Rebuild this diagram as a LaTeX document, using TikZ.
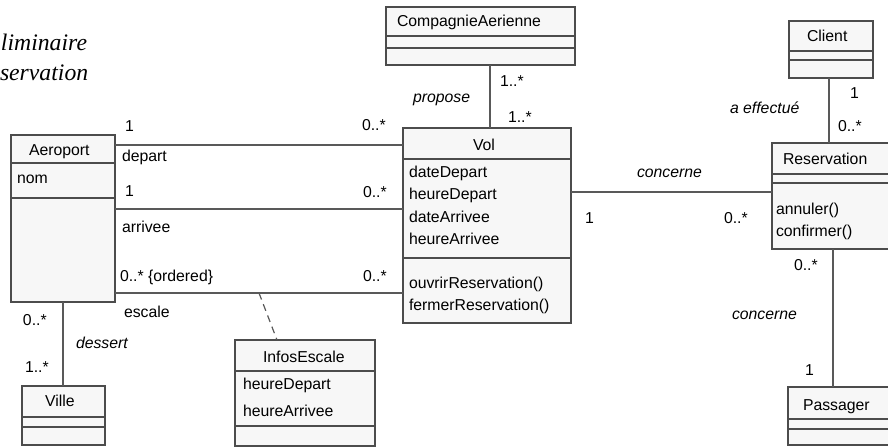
\documentclass[tikz,border=0pt]{standalone}
\usepackage{fontspec}
\setmainfont{Liberation Sans}
\newfontfamily\capfont{Liberation Serif}
\usetikzlibrary{positioning}

\begin{document}
\begin{tikzpicture}[
  x=1pt, y=-1pt,
  every node/.style={font=\fontsize{15.8}{18}\selectfont, inner sep=0pt, outer sep=0pt},
  cls/.style={draw=black!70, fill=black!3, line width=1.3pt, anchor=north west},
  sep/.style={draw=black!70, line width=1.1pt},
  assoc/.style={draw=black!65, line width=1.2pt},
  txt/.style={anchor=base west},
  role/.style={anchor=base west, font=\fontsize{15.8}{18}\selectfont\itshape},
  captxt/.style={anchor=base west, font=\capfont\fontsize{23.7}{28}\selectfont\itshape}
]
\useasboundingbox (0,0) rectangle (888,447);
\clip (0,0) rectangle (888,447);

%% ---- CAPTION ---------------------------------------------------
\node[captxt] (cap1) at (1,50) {liminaire};
\node[captxt] (cap2) at (0,80) {servation};

%% ---- CLASSES ---------------------------------------------------
\node[cls, minimum width=104pt, minimum height=167pt] (aeroport) at (11,135)  {};
\node[cls, minimum width=168pt, minimum height=195pt] (vol)      at (403,128) {};
\node[cls, minimum width=189pt, minimum height=58pt]  (comp)     at (386,7)   {};
\node[cls, minimum width=84pt,  minimum height=57pt]  (client)   at (789,21)  {};
\node[cls, minimum width=130pt, minimum height=106pt] (resa)     at (772,143) {};
\node[cls, minimum width=114pt, minimum height=58pt]  (passager) at (788,387) {};
\node[cls, minimum width=83pt,  minimum height=59pt]  (ville)    at (22,386)  {};
\node[cls, minimum width=140pt, minimum height=106pt] (infos)    at (235,340) {};

%% compartments
\draw[sep] ([yshift=-28pt]aeroport.north west) -- ([yshift=-28pt]aeroport.north east);
\draw[sep] ([yshift=-63pt]aeroport.north west) -- ([yshift=-63pt]aeroport.north east);
\draw[sep] ([yshift=-31pt]vol.north west)      -- ([yshift=-31pt]vol.north east);
\draw[sep] ([yshift=-130pt]vol.north west)     -- ([yshift=-130pt]vol.north east);
\draw[sep] ([yshift=-29pt]comp.north west)     -- ([yshift=-29pt]comp.north east);
\draw[sep] ([yshift=-41pt]comp.north west)     -- ([yshift=-41pt]comp.north east);
\draw[sep] ([yshift=-30pt]client.north west)   -- ([yshift=-30pt]client.north east);
\draw[sep] ([yshift=-39pt]client.north west)   -- ([yshift=-39pt]client.north east);
\draw[sep] ([yshift=-31pt]resa.north west)     -- ([yshift=-31pt]resa.north east);
\draw[sep] ([yshift=-40pt]resa.north west)     -- ([yshift=-40pt]resa.north east);
\draw[sep] ([yshift=-32pt]passager.north west) -- ([yshift=-32pt]passager.north east);
\draw[sep] ([yshift=-42pt]passager.north west) -- ([yshift=-42pt]passager.north east);
\draw[sep] ([yshift=-31pt]ville.north west)    -- ([yshift=-31pt]ville.north east);
\draw[sep] ([yshift=-41pt]ville.north west)    -- ([yshift=-41pt]ville.north east);
\draw[sep] ([yshift=-31pt]infos.north west)    -- ([yshift=-31pt]infos.north east);
\draw[sep] ([yshift=-86pt]infos.north west)    -- ([yshift=-86pt]infos.north east);

%% class texts
\node[txt] (aeroportN) at (29,155)  {Aeroport};
\node[txt] (nom)       at (17,183)  {nom};

\node[txt] (volN)      at (473,150) {Vol};
\node[txt] (dd)        at (409,177) {dateDepart};
\node[txt] (hd)        at (409,199) {heureDepart};
\node[txt] (da)        at (409,222) {dateArrivee};
\node[txt] (ha)        at (409,244) {heureArrivee};
\node[txt] (ouvrir)    at (409,288) {ouvrirReservation()};
\node[txt] (fermer)    at (409,310) {fermerReservation()};

\node[txt] (compN)     at (397,27)  {CompagnieAerienne};
\node[txt] (clientN)   at (807,41)  {Client};

\node[txt] (resaN)     at (783,164) {Reservation};
\node[txt] (annuler)   at (776,214) {annuler()};
\node[txt] (confirmer) at (776,236) {confirmer()};

\node[txt] (passagerN) at (803,410) {Passager};
\node[txt] (villeN)    at (45,406)  {Ville};

\node[txt] (infosN)    at (263,362) {InfosEscale};
\node[txt] (ihd)       at (243,389) {heureDepart};
\node[txt] (iha)       at (243,416) {heureArrivee};

%% ---- ASSOCIATIONS ----------------------------------------------
\coordinate (dep) at ([yshift=-10pt]aeroport.north east);
\coordinate (arr) at ([yshift=-74pt]aeroport.north east);
\coordinate (esc) at ([yshift=-158pt]aeroport.north east);
\draw[assoc] (dep) -- (dep -| vol.west);
\draw[assoc] (arr) -- (arr -| vol.west);
\draw[assoc] (esc) -- (esc -| vol.west) coordinate[pos=0.5] (escmid);

%% escale -> InfosEscale (dashed)
\draw[assoc, dash pattern=on 7pt off 5pt] (escmid) -- ([xshift=-28pt]infos.north);

\draw[assoc] (aeroport.south) -- (aeroport.south |- ville.north);

\coordinate (vt) at ([xshift=3pt]vol.north);
\draw[assoc] (vt) -- (vt |- comp.south);

\coordinate (vr) at ([yshift=-64pt]vol.north east);
\draw[assoc] (vr) -- (vr -| resa.west);

\coordinate (cr) at ([xshift=-2pt]client.south);
\draw[assoc] (cr) -- (cr |- resa.north);

\coordinate (rp) at ([xshift=61pt]resa.south west);
\draw[assoc] (rp) -- (rp |- passager.north);

%% ---- MULTIPLICITIES AND ROLES ----------------------------------
\node[txt]  (m1)  at (125,131) {1};
\node[txt]  (m2)  at (362,130) {0..*};
\node[txt]  (r1)  at (122,161) {depart};
\node[txt]  (m3)  at (125,196) {1};
\node[txt]  (m4)  at (363,197) {0..*};
\node[txt]  (r2)  at (122,232) {arrivee};
\node[txt]  (m5)  at (120,281) {0..* \{ordered\}};
\node[txt]  (m6)  at (363,281) {0..*};
\node[txt]  (r3)  at (124,317) {escale};

\node[txt]  (m7)  at (23,325)  {0..*};
\node[txt]  (m8)  at (25,372)  {1..*};
\node[role] (a1)  at (76,348)  {dessert};

\node[txt]  (m9)  at (500,86)  {1..*};
\node[role] (a2)  at (413,102) {propose};
\node[txt]  (m10) at (508,122) {1..*};

\node[txt]  (m11) at (585,223) {1};
\node[role] (a3)  at (637,177) {concerne};
\node[txt]  (m12) at (724,223) {0..*};

\node[txt]  (m13) at (850,98)  {1};
\node[role] (a4)  at (730,113) {a effectué};
\node[txt]  (m14) at (838,131) {0..*};

\node[txt]  (m15) at (794,270) {0..*};
\node[role] (a5)  at (732,319) {concerne};
\node[txt]  (m16) at (805,375) {1};

\end{tikzpicture}
\end{document}
